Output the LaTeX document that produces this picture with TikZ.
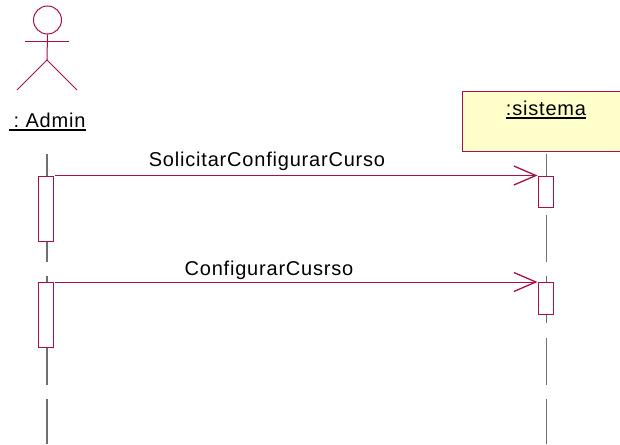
\documentclass[tikz,border=0pt]{standalone}
\usepackage{fontspec}
\setmainfont{Liberation Sans}[LetterSpace=4]
\usetikzlibrary{arrows.meta, positioning}
\definecolor{umlline}{HTML}{A80F4B}
\definecolor{umlfill}{HTML}{FFFFCC}
\definecolor{lifegray}{HTML}{707070}
\tikzset{lifeline/.style={draw=lifegray, line width=1.2pt},
         actorline/.style={draw=umlline, line width=1pt},
         activation/.style={draw=umlline, fill=white, line width=1pt, minimum width=15pt, inner sep=0pt, anchor=north west},
         message/.style={draw=umlline, line width=1pt, -{Straight Barb[length=22pt, width=19pt, line width=1.3pt]}},
         label/.style={inner sep=0pt, font=\fontsize{20}{22}\selectfont},
         labelrule/.style={draw=black, line width=1.6pt}}

\begin{document}
\begin{tikzpicture}[x=1pt, y=-1pt]
    \useasboundingbox (0,0) rectangle (620,444);
    % actor
    \node (head) [circle, draw=umlline, line width=1pt, minimum size=28pt, inner sep=0pt] at (47.5,20) {};
    \coordinate (hip) at (47,60);
    \coordinate (armL) at (25,41.5);
    \coordinate (armR) at (69,41.5);
    \coordinate (footL) at (17,90);
    \coordinate (footR) at (77,90);
    \draw[actorline] (head.south) -- (hip);
    \draw[actorline] (armL) -- (armR);
    \draw[actorline] (footL) -- (hip) -- (footR);
    \node (admin) [label, anchor=base] at (47.5,127) {\hspace{4pt}:\hspace{-2pt} Admin\hspace{1pt}};
    \draw[labelrule] ([yshift=-3pt]admin.base west) -- ([yshift=-3pt]admin.base east);
    % object box
    \node (sistema) [draw=umlline, fill=umlfill, line width=1pt, minimum width=170pt, minimum height=60pt, anchor=north west] at (462,91) {};
    \node (sistemaname) [label, anchor=base] at (546,115) {:sistema};
    \draw[labelrule] ([yshift=-3pt]sistemaname.base west) -- ([yshift=-3pt]sistemaname.base east);
    % lifelines
    \foreach \x/\name in {47/L, 546.5/R} {
        \foreach \a/\b [count=\i] in {154/262, 276/385, 399/444} {
            \coordinate (\name top\i) at (\x,\a);
            \coordinate (\name bot\i) at (\x,\b);
            \draw[lifeline] (\name top\i) -- (\name bot\i);
        }
    }
    \fill[white] (540,207) rectangle (555,215);
    \fill[white] (540,323) rectangle (555,338);
    % activations
    \node (barA) [activation, minimum height=65pt] at (38,175.5) {};
    \node (barB) [activation, minimum height=65pt] at (38,282) {};
    \node (barC) [activation, minimum height=31pt] at (537.5,175.5) {};
    \node (barD) [activation, minimum height=32pt] at (537.5,282) {};
    % messages
    \coordinate (startA) at (55,175.5);
    \coordinate (startB) at (55,282);
    \draw[message] (startA) -- (barC.north west);
    \draw[message] (startB) -- (barD.north west);
    \node (msgA) [label, anchor=base] at (267,166.5) {SolicitarConfigurarCurso};
    \node (msgB) [label, anchor=base] at (269,275.5) {ConfigurarCusrso};
\end{tikzpicture}
\end{document}
